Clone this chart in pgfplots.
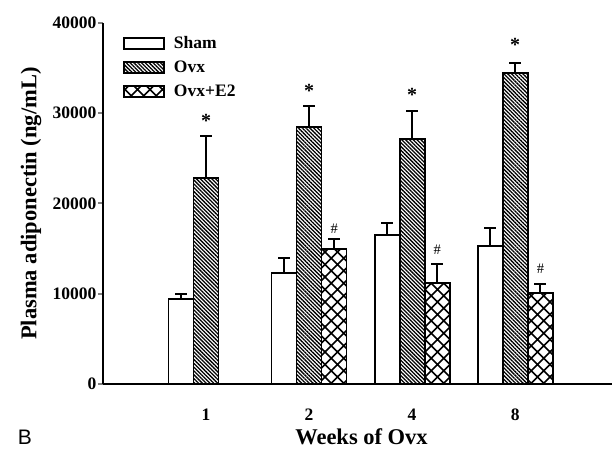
\documentclass[border=0pt]{standalone}
\usepackage{fontspec}
\setmainfont{Liberation Serif}
\newfontfamily\sansB{Liberation Sans}
\usepackage{pgfplots}
\pgfplotsset{compat=1.18}
\usetikzlibrary{patterns,patterns.meta}

\pgfdeclarepatternformonly{mydiamonds}{\pgfqpoint{-1pt}{-1pt}}{\pgfqpoint{13.5pt}{13.5pt}}{\pgfqpoint{12.5pt}{12.5pt}}{%
  \pgfsetlinewidth{1.5pt}%
  \pgfpathmoveto{\pgfqpoint{-1pt}{-1pt}}\pgfpathlineto{\pgfqpoint{13.5pt}{13.5pt}}%
  \pgfpathmoveto{\pgfqpoint{-1pt}{13.5pt}}\pgfpathlineto{\pgfqpoint{13.5pt}{-1pt}}%
  \pgfusepath{stroke}}

\begin{document}
\begin{tikzpicture}
\useasboundingbox (-103pt,-68pt) rectangle (513pt,384pt);
\begin{axis}[
  at={(0pt,0pt)}, anchor=south west,
  scale only axis, width=509pt, height=361pt,
  xmin=0, xmax=4.94, ymin=0, ymax=40000,
  axis lines=left,
  axis line style={-, line width=2pt},
  ybar=0pt, bar width=25pt,
  xtick={1,2,3,4}, xticklabels={1,2,4,8},
  xtick style={draw=none},
  ytick={0,10000,20000,30000,40000},
  ytick style={line width=2pt},
  tick align=outside, major tick length=5pt,
  scaled y ticks=false,
  /pgf/number format/.cd, fixed, 1000 sep={}, assume math mode=true, /pgfplots/.cd,
  ticklabel style={font=\fontsize{17.5}{20}\selectfont\bfseries},
  yticklabel style={xshift=2pt},
  xticklabel style={yshift=-16pt},
  xlabel={Weeks of Ovx},
  ylabel={Plasma adiponectin (ng/mL)},
  every axis x label/.style={at={(axis description cs:0.5,0)}, xshift=4pt, yshift=-53pt, anchor=center, font=\fontsize{22.5}{26}\selectfont\bfseries},
  every axis y label/.style={at={(axis description cs:0,0.5)}, xshift=-72pt, rotate=90, anchor=center, font=\fontsize{22.5}{26}\selectfont\bfseries},
  clip=false,
  legend image code/.code={\draw[#1] (0pt,-5.5pt) rectangle (40pt,5.5pt);},
  legend style={draw=none, fill=none, at={(axis description cs:0,1)}, anchor=north west, xshift=17pt, yshift=-9.5pt,
    font=\fontsize{17.5}{20}\selectfont\bfseries, row sep=6.8pt,
    /tikz/every odd column/.append style={column sep=7pt}},
  legend cell align=left,
  error bars/y dir=plus, error bars/y explicit,
  error bars/error bar style={line width=2pt, black},
  error bars/error mark options={rotate=90, mark size=6pt, line width=2pt, black},
]
\addplot[draw=black, fill=white, line width=1.8pt] coordinates {
  (1,9400) +- (0,550)
  (2,12330) +- (0,1680)
  (3,16510) +- (0,1300)
  (4,15330) +- (0,1920)
};
\addlegendentry{Sham}
\addplot[draw=black, line width=1.8pt, pattern={Lines[angle=-45, distance=2.7pt, line width=1.3pt]}] coordinates {
  (1,22850) +- (0,4650)
  (2,28510) +- (0,2330)
  (3,27150) +- (0,3100)
  (4,34430) +- (0,1170)
};
\addlegendentry{Ovx}
\addplot[draw=black, line width=1.8pt, pattern=mydiamonds] coordinates {
  (2,14920) +- (0,1150)
  (3,11230) +- (0,2070)
  (4,10120) +- (0,930)
};
\addlegendentry{Ovx+E2}
\node[anchor=base, font=\fontsize{20}{22}\selectfont\bfseries] at (axis cs:1,28420) {*};
\node[anchor=base, font=\fontsize{20}{22}\selectfont\bfseries] at (axis cs:2,31750) {*};
\node[anchor=base, font=\fontsize{20}{22}\selectfont\bfseries] at (axis cs:3,31300) {*};
\node[anchor=base, font=\fontsize{20}{22}\selectfont\bfseries] at (axis cs:4,36840) {*};
\node[anchor=base, font=\fontsize{14.5}{16}\selectfont] at (axis cs:2.245,16650) {\#};
\node[anchor=base, font=\fontsize{14.5}{16}\selectfont] at (axis cs:3.245,14300) {\#};
\node[anchor=base, font=\fontsize{14.5}{16}\selectfont] at (axis cs:4.245,12230) {\#};
\end{axis}
\node[font=\fontsize{21}{24}\selectfont\sansB] at (-78pt,-53pt) {B};
\end{tikzpicture}
\end{document}
